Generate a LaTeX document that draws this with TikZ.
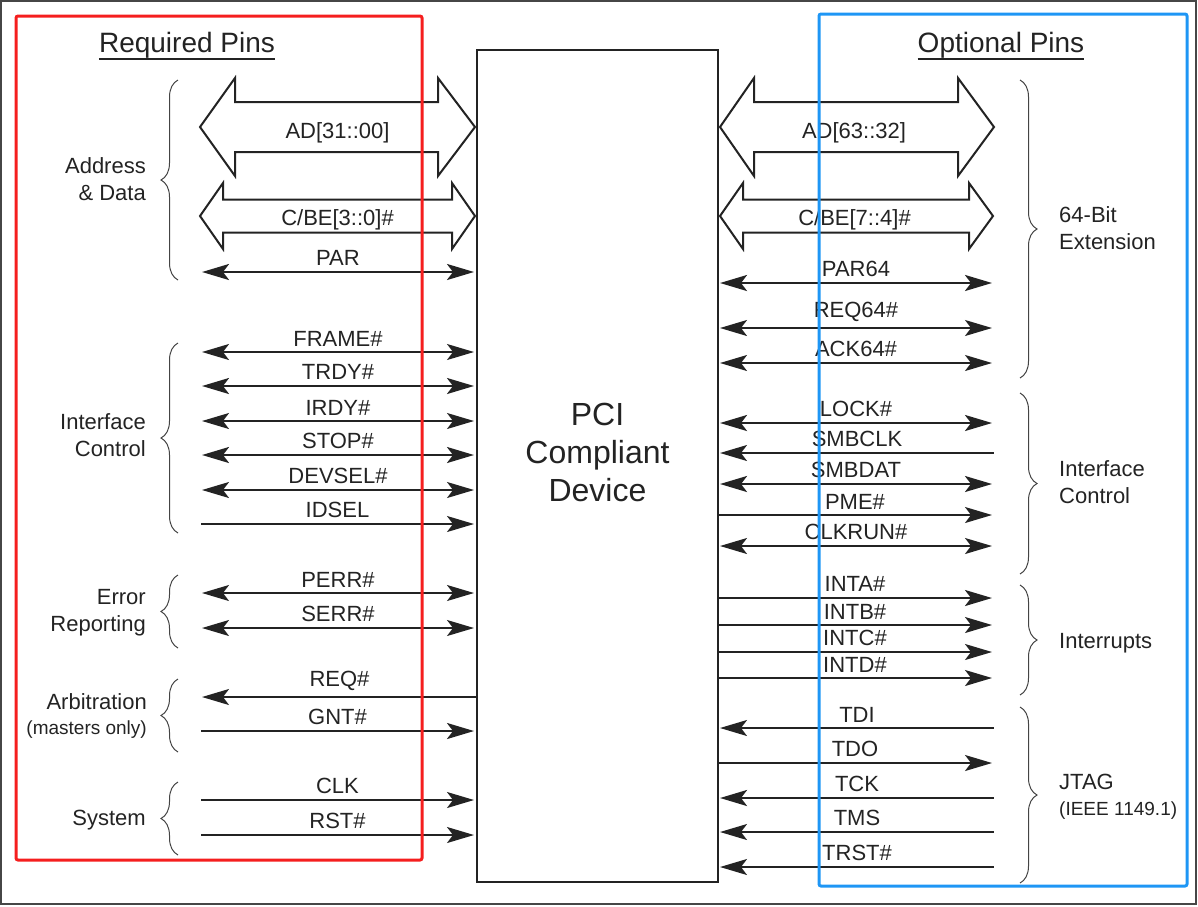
\documentclass[tikz,border=0pt]{standalone}
\usepackage{fontspec}
\setmainfont{Liberation Sans}
\usepackage{tikz}
\usetikzlibrary{arrows.meta}
\usetikzlibrary{calc}
\usetikzlibrary{decorations.pathreplacing}

\definecolor{ink}{RGB}{35,35,35}
\definecolor{framegray}{RGB}{70,70,70}
\definecolor{reqred}{RGB}{245,30,30}
\definecolor{optblue}{RGB}{30,150,245}

\newcommand{\sigfont}{\fontsize{22}{27}\selectfont}
\newcommand{\smallsigfont}{\fontsize{19}{24}\selectfont}
\newcommand{\titlefont}{\fontsize{28}{34}\selectfont}
\newcommand{\chipfont}{\fontsize{32}{38}\selectfont}

\begin{document}
\begin{tikzpicture}[x=1pt, y=-1pt, auto, inner sep=5pt, font=\sigfont, text=ink,
        >={Stealth[length=27pt,width=16pt,inset=6pt]},
        chip_style/.style={draw=ink, line width=2pt, minimum width=241pt, minimum height=832pt, inner sep=0pt},
        chip_text_style/.style={align=center, font=\chipfont, inner sep=0pt},
        title_style/.style={font=\titlefont, anchor=base, inner sep=0pt},
        group_left_style/.style={anchor=east, align=right, inner sep=0pt},
        group_right_style/.style={anchor=west, align=left, inner sep=0pt},
        both_edge_style/.style={draw=ink, line width=1.8pt, <->},
        out_edge_style/.style={draw=ink, line width=1.8pt, ->},
        in_edge_style/.style={draw=ink, line width=1.8pt, <-},
        heavy/.style={line width=2.6pt},
        bus_style/.style={draw=ink, line width=2pt, fill=white, line join=miter},
        bus_label_style/.style={anchor=base, inner sep=0pt},
        brace_style/.style={draw=ink!85, line width=1pt, decorate, decoration={brace, amplitude=17pt}},
        pin_box_style/.style={line width=3pt, rounded corners=2pt}]

        \useasboundingbox (0,0) rectangle (1198,906);

        \coordinate (page_nw) at (1,1);
        \coordinate (page_se) at (1196,904);
        \draw [framegray, line width=2pt] (page_nw) rectangle (page_se);

        \node [chip_style] (chip) at (597.5,466) {};

        \node [chip_text_style] (chip_text) at (597.5,452) {PCI\\Compliant\\Device};

        \coordinate (ad_lo_l) at (200,127);
        \coordinate (ad_lo_r) at (475,127);
        \draw [bus_style] (ad_lo_l) -- ++(35,-49) -- ++(0,24) -- ($(ad_lo_r)+(-37,-25)$) -- ++(0,-24) -- (ad_lo_r) -- ++(-37,49) -- ++(0,-24) -- ($(ad_lo_l)+(35,25)$) -- ++(0,24) -- cycle;
        \node [bus_label_style] (ad_lo_text) at ($(ad_lo_l)!0.5!(ad_lo_r)+(0,11)$) {AD[31::00]};

        \coordinate (cbe_lo_l) at (200,216);
        \coordinate (cbe_lo_r) at (475,216);
        \draw [bus_style] (cbe_lo_l) -- ++(23,-33) -- ++(0,16.5) -- ($(cbe_lo_r)+(-23,-16.5)$) -- ++(0,-16.5) -- (cbe_lo_r) -- ++(-23,33) -- ++(0,-16.5) -- ($(cbe_lo_l)+(23,16.5)$) -- ++(0,16.5) -- cycle;
        \node [bus_label_style] (cbe_lo_text) at ($(cbe_lo_l)!0.5!(cbe_lo_r)+(0,9)$) {C/BE[3::0]\#};

        \coordinate (ad_hi_l) at (720,127);
        \coordinate (ad_hi_r) at (994,127);
        \draw [bus_style] (ad_hi_l) -- ++(34,-49) -- ++(0,24) -- ($(ad_hi_r)+(-36,-25)$) -- ++(0,-24) -- (ad_hi_r) -- ++(-36,49) -- ++(0,-24) -- ($(ad_hi_l)+(34,25)$) -- ++(0,24) -- cycle;
        \node [bus_label_style] (ad_hi_text) at ($(ad_hi_l)!0.5!(ad_hi_r)+(-3,11)$) {AD[63::32]};

        \coordinate (cbe_hi_l) at (720,216);
        \coordinate (cbe_hi_r) at (993,216);
        \draw [bus_style] (cbe_hi_l) -- ++(23,-33) -- ++(0,16.5) -- ($(cbe_hi_r)+(-24,-16.5)$) -- ++(0,-16.5) -- (cbe_hi_r) -- ++(-24,33) -- ++(0,-16.5) -- ($(cbe_hi_l)+(23,16.5)$) -- ++(0,16.5) -- cycle;
        \node [bus_label_style] (cbe_hi_text) at ($(cbe_hi_l)!0.5!(cbe_hi_r)+(-2,9)$) {C/BE[7::4]\#};

        \coordinate (par_l) at (202,272);
        \coordinate (par_r) at (474,272);
        \draw (par_l) edge [both_edge_style, heavy] node{PAR} (par_r);

        \coordinate (frame_l) at (202,352);
        \coordinate (frame_r) at (474,352);
        \draw (frame_l) edge [both_edge_style] node{FRAME\#} (frame_r);

        \coordinate (trdy_l) at (202,386);
        \coordinate (trdy_r) at (474,386);
        \draw (trdy_l) edge [both_edge_style, heavy] node{TRDY\#} (trdy_r);

        \coordinate (irdy_l) at (202,421);
        \coordinate (irdy_r) at (474,421);
        \draw (irdy_l) edge [both_edge_style] node{IRDY\#} (irdy_r);

        \coordinate (stop_l) at (202,455);
        \coordinate (stop_r) at (474,455);
        \draw (stop_l) edge [both_edge_style, heavy] node{STOP\#} (stop_r);

        \coordinate (devsel_l) at (202,490);
        \coordinate (devsel_r) at (474,490);
        \draw (devsel_l) edge [both_edge_style] node{DEVSEL\#} (devsel_r);

        \coordinate (idsel_l) at (201,524);
        \coordinate (idsel_r) at (474,524);
        \draw (idsel_l) edge [out_edge_style] node{IDSEL} (idsel_r);

        \coordinate (perr_l) at (202,593);
        \coordinate (perr_r) at (474,593);
        \draw (perr_l) edge [both_edge_style] node{PERR\#} (perr_r);

        \coordinate (serr_l) at (202,628);
        \coordinate (serr_r) at (474,628);
        \draw (serr_l) edge [both_edge_style] node{SERR\#} (serr_r);

        \coordinate (req_l) at (202,697);
        \coordinate (req_r) at (477,697);
        \draw (req_l) edge [in_edge_style] node{REQ\#} (req_r);

        \coordinate (gnt_l) at (201,731);
        \coordinate (gnt_r) at (474,731);
        \draw (gnt_l) edge [out_edge_style, heavy] node{GNT\#} (gnt_r);

        \coordinate (clk_l) at (201,800);
        \coordinate (clk_r) at (474,800);
        \draw (clk_l) edge [out_edge_style] node{CLK} (clk_r);

        \coordinate (rst_l) at (201,835);
        \coordinate (rst_r) at (474,835);
        \draw (rst_l) edge [out_edge_style] node{RST\#} (rst_r);

        \coordinate (par64_l) at (720,283);
        \coordinate (par64_r) at (992,283);
        \draw (par64_l) edge [both_edge_style, heavy] node{PAR64} (par64_r);

        \coordinate (req64_l) at (720,328);
        \coordinate (req64_r) at (992,328);
        \draw (req64_l) edge [both_edge_style] node{REQ64\#} (req64_r);

        \coordinate (ack64_l) at (720,363);
        \coordinate (ack64_r) at (992,363);
        \draw (ack64_l) edge [both_edge_style] node{ACK64\#} (ack64_r);

        \coordinate (lock_l) at (720,423);
        \coordinate (lock_r) at (992,423);
        \draw (lock_l) edge [both_edge_style, heavy] node{LOCK\#} (lock_r);

        \coordinate (smbclk_l) at (720,453);
        \coordinate (smbclk_r) at (994,453);
        \draw (smbclk_l) edge [in_edge_style] node{SMBCLK} (smbclk_r);

        \coordinate (smbdat_l) at (720,484);
        \coordinate (smbdat_r) at (992,484);
        \draw (smbdat_l) edge [both_edge_style, heavy] node{SMBDAT} (smbdat_r);

        \coordinate (pme_l) at (718,515);
        \coordinate (pme_r) at (992,515);
        \draw (pme_l) edge [out_edge_style] node{PME\#} (pme_r);

        \coordinate (clkrun_l) at (720,546);
        \coordinate (clkrun_r) at (992,546);
        \draw (clkrun_l) edge [both_edge_style] node{CLKRUN\#} (clkrun_r);

        \coordinate (inta_l) at (718,598);
        \coordinate (inta_r) at (992,598);
        \draw (inta_l) edge [out_edge_style, heavy] node{INTA\#} (inta_r);

        \coordinate (intb_l) at (718,625);
        \coordinate (intb_r) at (992,625);
        \draw (intb_l) edge [out_edge_style] node{INTB\#} (intb_r);

        \coordinate (intc_l) at (718,652);
        \coordinate (intc_r) at (992,652);
        \draw (intc_l) edge [out_edge_style] node{INTC\#} (intc_r);

        \coordinate (intd_l) at (718,678);
        \coordinate (intd_r) at (992,678);
        \draw (intd_l) edge [out_edge_style] node{INTD\#} (intd_r);

        \coordinate (tdi_l) at (720,728);
        \coordinate (tdi_r) at (994,728);
        \draw (tdi_l) edge [in_edge_style] node{TDI} (tdi_r);

        \coordinate (tdo_l) at (718,763);
        \coordinate (tdo_r) at (992,763);
        \draw (tdo_l) edge [out_edge_style] node{TDO} (tdo_r);

        \coordinate (tck_l) at (720,798);
        \coordinate (tck_r) at (994,798);
        \draw (tck_l) edge [in_edge_style, heavy] node{TCK} (tck_r);

        \coordinate (tms_l) at (720,832);
        \coordinate (tms_r) at (994,832);
        \draw (tms_l) edge [in_edge_style] node{TMS} (tms_r);

        \coordinate (trst_l) at (720,867);
        \coordinate (trst_r) at (994,867);
        \draw (trst_l) edge [in_edge_style] node{TRST\#} (trst_r);

        \coordinate (br_addr_a) at (178,280);
        \coordinate (br_addr_b) at (178,80);
        \draw [brace_style] (br_addr_a) -- (br_addr_b);

        \coordinate (br_ifc_a) at (178,533);
        \coordinate (br_ifc_b) at (178,343);
        \draw [brace_style] (br_ifc_a) -- (br_ifc_b);

        \coordinate (br_err_a) at (178,648);
        \coordinate (br_err_b) at (178,575);
        \draw [brace_style] (br_err_a) -- (br_err_b);

        \coordinate (br_arb_a) at (178,752);
        \coordinate (br_arb_b) at (178,679);
        \draw [brace_style] (br_arb_a) -- (br_arb_b);

        \coordinate (br_sys_a) at (178,855);
        \coordinate (br_sys_b) at (178,782);
        \draw [brace_style] (br_sys_a) -- (br_sys_b);

        \coordinate (br_bit64_a) at (1020,80);
        \coordinate (br_bit64_b) at (1020,378);
        \draw [brace_style] (br_bit64_a) -- (br_bit64_b);

        \coordinate (br_ifcr_a) at (1020,393);
        \coordinate (br_ifcr_b) at (1020,574);
        \draw [brace_style] (br_ifcr_a) -- (br_ifcr_b);

        \coordinate (br_int_a) at (1020,585);
        \coordinate (br_int_b) at (1020,695);
        \draw [brace_style] (br_int_a) -- (br_int_b);

        \coordinate (br_jtag_a) at (1020,707);
        \coordinate (br_jtag_b) at (1020,883);
        \draw [brace_style] (br_jtag_a) -- (br_jtag_b);

        \node [group_left_style] (addr_text) at (146,179) {Address\\\& Data};

        \node [group_left_style] (ifc_text) at (146,435) {Interface\\Control};

        \node [group_left_style] (err_text) at (146,613) {Error\\Reporting};

        \node [group_left_style] (arb_text) at (147,716) {Arbitration\\[-2pt]{\smallsigfont (masters only)}};

        \node [group_left_style] (sys_text) at (146,820) {System};

        \node [group_right_style] (bit64_text) at (1059,228) {64-Bit\\Extension};

        \node [group_right_style] (ifcr_text) at (1059,482) {Interface\\Control};

        \node [group_right_style] (int_text) at (1059,643) {Interrupts};

        \node [group_right_style] (jtag_text) at (1059,797) {JTAG\\[-1pt]{\smallsigfont (IEEE 1149.1)}};

        \node [title_style] (req_title) at (187,52) {Required Pins};
        \draw [ink, line width=2pt] ($(req_title.base west)+(0,7)$) -- ($(req_title.base east)+(0,7)$);

        \node [title_style] (opt_title) at (1001,52) {Optional Pins};
        \draw [ink, line width=2pt] ($(opt_title.base west)+(0,7)$) -- ($(opt_title.base east)+(0,7)$);

        \coordinate (req_nw) at (16,16);
        \coordinate (req_se) at (422,860);
        \draw [pin_box_style, reqred] (req_nw) rectangle (req_se);

        \coordinate (opt_nw) at (819,14);
        \coordinate (opt_se) at (1187,886);
        \draw [pin_box_style, optblue] (opt_nw) rectangle (opt_se);

        \end{tikzpicture}
\end{document}
